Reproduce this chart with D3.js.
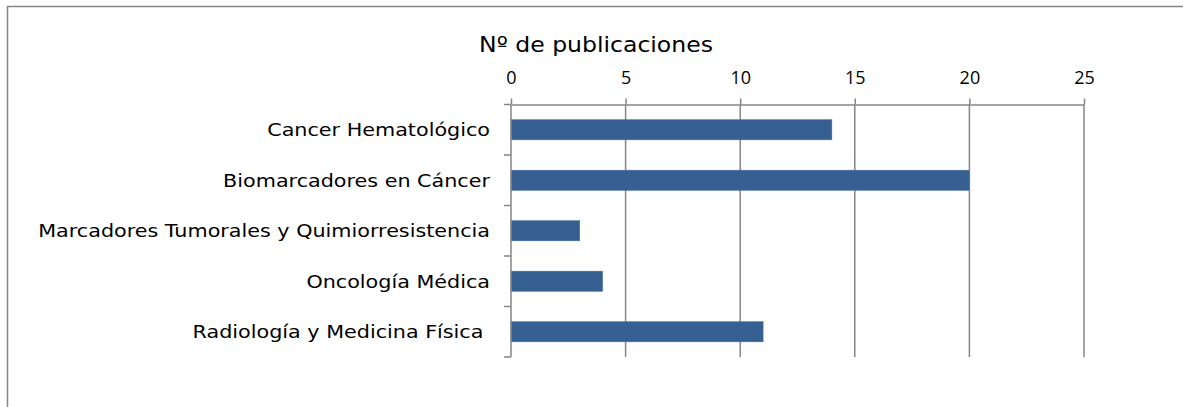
<!DOCTYPE html>
<html>
<head>
<meta charset="utf-8">
<script src="https://cdn.jsdelivr.net/npm/d3@7"></script>
<style>
  body { margin: 0; background: #fff; }
  svg { display: block; }
</style>
</head>
<body>
<div id="chart"></div>
<script>
const categories = ["Cancer Hematológico", "Biomarcadores en Cáncer", "Marcadores Tumorales y Quimiorresistencia", "Oncología Médica", "Radiología y Medicina Física "];
const publicaciones = [14, 20, 3, 4, 11];
const tickValues = [0, 5, 10, 15, 20, 25];
const title = "Nº de publicaciones";

const width = 1183, height = 407;
const labelFont = "'DejaVu Sans', sans-serif";

// ensancha el texto para parecerse a Century Gothic
const stretch = (sel, k) => sel.each(function(){
  const len = this.getComputedTextLength();
  d3.select(this)
    .attr("textLength", len * k)
    .attr("lengthAdjust", "spacingAndGlyphs");
});

const svg = d3.select("#chart")
  .append("svg")
    .attr("width", width)
    .attr("height", height);

// marco del gráfico (se sale por la derecha y abajo)
svg.append("rect")
  .attr("x", 7.5)
  .attr("y", 6.5)
  .attr("width", width + 10)
  .attr("height", height + 10)
  .attr("fill", "white")
  .attr("stroke", "#868686")
  .attr("stroke-width", 1.5);

const x = d3.scaleLinear()
  .domain([0, 25])
  .range([511, 1084]);

const y = d3.scaleBand()
  .domain(categories)
  .range([104.5, 357])
  .paddingInner(0.6)
  .paddingOuter(0.3);

const yLines = d3.scaleBand()
  .domain(categories)
  .range([104.5, 357]);

// rejilla vertical
svg.append("g")
  .selectAll("line")
  .data(tickValues.slice(1))
  .enter()
  .append("line")
    .attr("x1", d => x(d))
    .attr("x2", d => x(d))
    .attr("y1", 104.5)
    .attr("y2", 357)
    .attr("stroke", "#868686")
    .attr("stroke-width", 1.5);

// barras
svg.append("g")
  .selectAll("rect")
  .data(publicaciones)
  .enter()
  .append("rect")
    .attr("x", x(0))
    .attr("y", (d, i) => y(categories[i]))
    .attr("width", d => x(d) - x(0))
    .attr("height", y.bandwidth())
    .attr("fill", "#376092")
    .attr("stroke", "#4a74a8")
    .attr("stroke-width", 0.5);

// eje superior
const xAxis = svg.append("g")
  .attr("transform", "translate(0,104.5)")
  .call(d3.axisTop(x).tickValues(tickValues).tickSize(6).tickSizeOuter(0).tickPadding(15));
xAxis.select(".domain").attr("stroke", "#868686").attr("stroke-width", 1.5);
xAxis.selectAll(".tick line").attr("stroke", "#868686").attr("stroke-width", 1.5);
xAxis.selectAll(".tick text")
  .attr("font-family", "'Open Sans', 'Liberation Sans', sans-serif")
  .attr("font-size", "18px")
  .attr("fill", "#000");

// eje izquierdo
const yAxis = svg.append("g")
  .attr("transform", "translate(511,0)");
yAxis.append("line")
  .attr("x1", 0).attr("x2", 0)
  .attr("y1", 104.5).attr("y2", 357)
  .attr("stroke", "#868686")
  .attr("stroke-width", 1.5);
yAxis.selectAll(".sep")
  .data(categories.concat([null]))
  .enter()
  .append("line")
    .attr("x1", -7).attr("x2", 0)
    .attr("y1", (d, i) => i < categories.length ? yLines(d) : 357)
    .attr("y2", (d, i) => i < categories.length ? yLines(d) : 357)
    .attr("stroke", "#868686")
    .attr("stroke-width", 1.5);

svg.append("g")
  .selectAll("text")
  .data(categories)
  .enter()
  .append("text")
    .attr("x", 490)
    .attr("y", d => yLines(d) + yLines.bandwidth() / 2)
    .attr("dy", "0.36em")
    .attr("text-anchor", "end")
    .attr("font-family", labelFont)
    .attr("font-size", "18px")
    .attr("fill", "#000")
    .style("white-space", "pre")
    .text(d => d)
    .call(stretch, 1.15);

svg.append("text")
  .attr("x", 596)
  .attr("y", 52)
  .attr("text-anchor", "middle")
  .attr("font-family", labelFont)
  .attr("font-size", "22px")
  .attr("fill", "#000")
  .text(title)
  .call(stretch, 1.07);
</script>
</body>
</html>
